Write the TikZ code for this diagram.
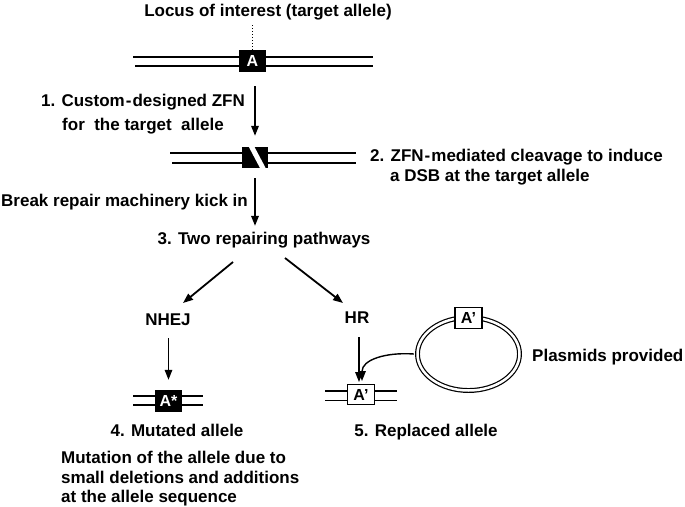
\documentclass[tikz,border=0pt]{standalone}
\usepackage{fontspec}
\setmainfont{Liberation Sans}
\usetikzlibrary{arrows.meta,shapes.geometric}
\begin{document}
\begin{tikzpicture}[x=1pt,y=-1pt,
  txt/.style={font=\fontsize{17}{20}\selectfont\bfseries, inner sep=0pt},
  strand/.style={line width=1.6pt},
  arr/.style={line width=1.8pt,-{Triangle[length=10pt,width=7.5pt]}},
  blackbox/.style={fill=black, minimum width=27pt, minimum height=22pt, inner sep=0pt,
    text=white, font=\fontsize{16}{18}\selectfont\bfseries},
  whitebox/.style={draw=black, line width=1.5pt, fill=white, minimum width=27pt,
    minimum height=20pt, inner sep=0pt, font=\fontsize{16}{18}\selectfont\bfseries}]
\useasboundingbox (0,0) rectangle (685,506);

% top locus
\node[txt] (locus) at (268,12) {Locus of interest (target allele)};
\draw[strand] (133,57) -- (373,57);
\draw[strand] (135,66) -- (373,66);
\node[blackbox] (boxA) at (252.5,61) {A};
\draw[dotted, line width=1pt, shorten <=5pt] (locus.south -| boxA.north) -- (boxA.north);

% step 1
\node[txt, font=\fontsize{17}{24}\selectfont\bfseries, align=center] (step1) at (143,114)
  {1. Custom\kern1pt-\kern1pt designed ZFN\\for\ \ the target\ \ allele};

% cut locus
\draw[strand] (170,153) -- (356,153);
\draw[strand] (172,163) -- (356,163);
\node[fill=black, minimum width=26pt, minimum height=21pt, inner sep=0pt] (cut) at (255,157.5) {};
\begin{scope}
  \clip (cut.south west) rectangle (cut.north east);
  \draw[white, line width=5pt] (248,140) -- (266.5,175);
\end{scope}
\draw[arr, shorten <=14pt, shorten >=11pt] (boxA.south -| cut.north) -- (cut.north);

% step 2
\node[txt, anchor=west] (step2a) at (370,157) {2. ZFN\kern1pt-\kern1pt mediated cleavage to induce};
\node[txt, anchor=west] (step2b) at (390,177) {a DSB at the target allele};

% break repair
\node[txt, anchor=west] (brk) at (1,202) {Break repair machinery kick in};

% step 3
\node[txt] (step3) at (264,240) {3. Two repairing pathways};
\draw[arr, shorten <=10pt, shorten >=6pt] (cut.south) -- (cut.south |- step3.north);

% pathways
\node[txt] (nhej) at (168,320) {NHEJ};
\node[txt] (hr) at (357,318) {HR};
\coordinate (l1) at (233,262);
\coordinate (l2) at (183,303);
\coordinate (r1) at (285,258);
\coordinate (r2) at (343,303);
\draw[arr] (l1) -- (l2);
\draw[arr] (r1) -- (r2);

% mutated allele
\draw[strand] (133,396) -- (203,396);
\draw[strand] (133,405) -- (203,405);
\node[blackbox] (astar) at (168.5,401) {A*};
\draw[arr, line width=1.4pt, shorten <=12pt, shorten >=10pt] (nhej.south -| astar.north) -- (astar.north);

% replaced allele
\draw[strand] (325,391) -- (397,391);
\draw[strand] (325,400.5) -- (397,400.5);
\node[whitebox] (aprime) at (361,394.5) {A’};
\coordinate (hrs) at (359,337);
\coordinate (hre) at (359,382);
\draw[arr, line width=1.4pt] (hrs) -- (hre);

% plasmid
\node[ellipse, draw, double, double distance=2.5pt, line width=1.2pt, minimum width=102pt,
  minimum height=73pt, inner sep=0pt] (plas) at (468.5,354) {};
\node[whitebox, minimum height=21pt] (plasbox) at (468.5,318) {A’};
\coordinate (pe) at (362,381);
\draw[arr, line width=1.4pt] ([xshift=-3pt]plas.west) .. controls (385,352) and (362,360) .. (pe);
\node[txt, anchor=west] (plaslbl) at (532,357) {Plasmids provided};

% labels
\node[txt] (mut) at (177,430) {4. Mutated allele};
\node[txt] (repl) at (426,432) {5. Replaced allele};
\node[txt, font=\fontsize{17}{19.5}\selectfont\bfseries, align=left, anchor=north west] (mutdesc) at (61,451)
  {Mutation of the allele due to\\small deletions and additions\\at the allele sequence};
\end{tikzpicture}
\end{document}
